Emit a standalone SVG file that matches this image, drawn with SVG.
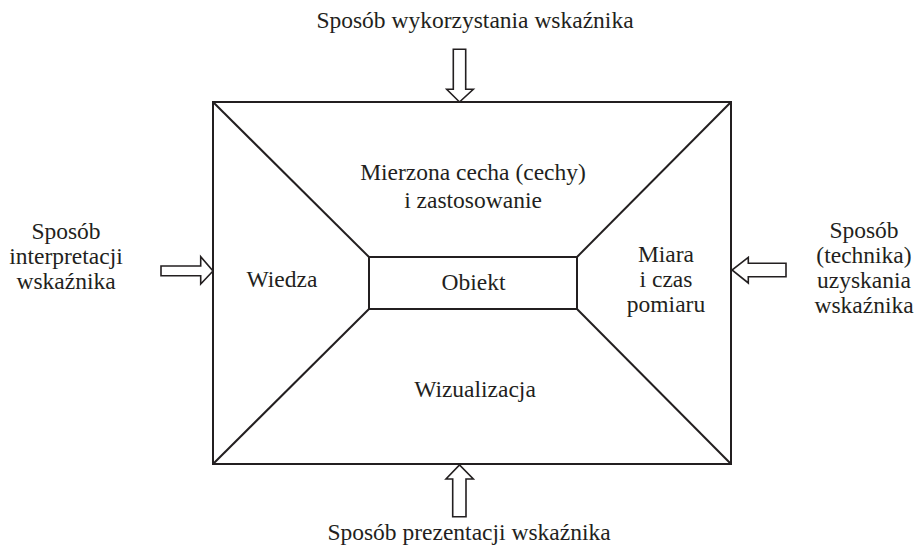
<svg xmlns="http://www.w3.org/2000/svg" width="918" height="551" viewBox="0 0 918 551">
<style>
text{font-family:'Liberation Serif','Times New Roman','DejaVu Serif',serif;font-size:23.5px;fill:#231f20;text-anchor:middle}
.box{fill:none;stroke:#231f20;stroke-width:2}
.arr{fill:#fff;stroke:#231f20;stroke-width:1.6;stroke-linejoin:miter}
</style>
<rect width="918" height="551" fill="#fff"/>
<g id="frame">
<rect class="box" x="213" y="102" width="518" height="362"/>
</g>
<g id="connectors">
<line class="box" x1="213" y1="102" x2="369" y2="257"/>
<line class="box" x1="731" y1="102" x2="577" y2="257"/>
<line class="box" x1="213" y1="464" x2="369" y2="309"/>
<line class="box" x1="731" y1="464" x2="577" y2="309"/>
<path class="arr" d="M453.3,49.3 H465.7 V89.3 H473.3 L459.5,102 L446.7,89.3 H453.3 Z"/>
<path class="arr" d="M452.7,516.7 H466 V479 H473.3 L459.5,465 L446,479 H452.7 Z"/>
<path class="arr" d="M161,266 H200.7 V256.7 L213,271 L200.7,284 V275.7 H161 Z"/>
<path class="arr" d="M786,263.3 H748.3 V257.3 L732,270 L748.3,283 V276.7 H786 Z"/>
</g>
<g font-family="Liberation Serif, Times New Roman, serif">
<g id="obiekt">
<rect class="box" x="369" y="257" width="208" height="52"/>
<text x="473.5" y="290">Obiekt</text>
</g>
<g id="mierzona">
<text x="473" y="180">Mierzona cecha (cechy)</text>
<text x="473" y="208">i zastosowanie</text>
</g>
<g id="wiedza">
<text x="282" y="287">Wiedza</text>
</g>
<g id="miara">
<text x="666" y="262">Miara</text>
<text x="666" y="287">i czas</text>
<text x="666" y="312">pomiaru</text>
</g>
<g id="wizualizacja">
<text x="475" y="397">Wizualizacja</text>
</g>
<g id="top-label">
<text x="475" y="28">Sposób wykorzystania wskaźnika</text>
</g>
<g id="bottom-label">
<text x="469" y="540">Sposób prezentacji wskaźnika</text>
</g>
<g id="left-label">
<text x="66" y="239">Sposób</text>
<text x="66" y="264">interpretacji</text>
<text x="66" y="289">wskaźnika</text>
</g>
<g id="right-label">
<text x="864" y="238">Sposób</text>
<text x="864" y="263">(technika)</text>
<text x="864" y="288">uzyskania</text>
<text x="864" y="313">wskaźnika</text>
</g>
</g>
</svg>
